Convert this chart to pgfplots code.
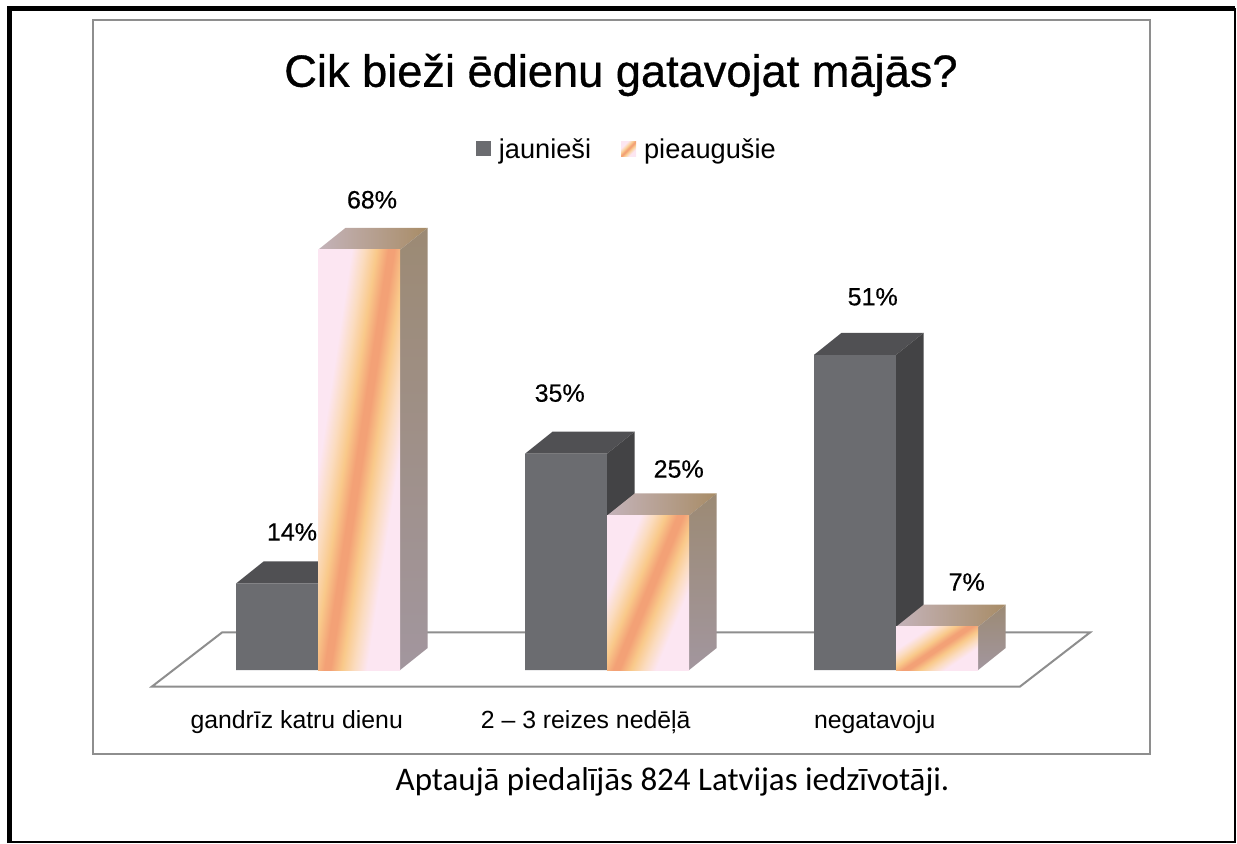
\documentclass[border=0pt]{standalone}
\usepackage{pgfplots}
\pgfplotsset{compat=1.18}
\usepackage{pgfplotstable}
\usepackage{fontspec}
\setmainfont{Liberation Sans}
\newfontfamily\capfont{Carlito}
\newfontfamily\titlefont[FakeBold=0.7]{Liberation Sans}
\newfontfamily\labfont[FakeBold=0.4]{Liberation Sans}
\definecolor{darkfront}{HTML}{6B6C70}
\definecolor{darktop}{HTML}{505053}
\definecolor{darkside}{HTML}{434345}
\definecolor{pinkw}{HTML}{FCE6F2}
\definecolor{peachl}{HTML}{FBDCC0}
\definecolor{yel}{HTML}{F9C98A}
\definecolor{orng}{HTML}{F3A176}
\definecolor{sidetop}{HTML}{9C8A74}
\definecolor{sidebot}{HTML}{A2969E}
\definecolor{topl}{HTML}{C4B3BA}
\definecolor{topm}{HTML}{D6A27A}
\definecolor{topr}{HTML}{A88C66}
\definecolor{framegray}{HTML}{8E8E8E}
\pgfdeclarehorizontalshading{peach}{100bp}{color(0bp)=(pinkw); color(31bp)=(pinkw); color(37bp)=(peachl); color(43bp)=(yel); color(48.5bp)=(orng); color(51.5bp)=(orng); color(57bp)=(yel); color(63bp)=(peachl); color(69bp)=(pinkw); color(100bp)=(pinkw)}
\pgfdeclareplotmark{nothing}{}

\pgfplotstableread{
x v lx ly
0 14 -2.35 25.75
1 35 -13 30.3
2 51 -1 29
}\jaun
\pgfplotstableread{
x v lx ly
0 68 37.65 25
1 25 46.5 23.25
2 7 46 22.35
}\pieaug

\begin{document}
\begin{tikzpicture}
\begin{axis}[
  name=ax,
  width=618.5pt, height=421.5pt, scale only axis,
  xmin=-1.02664, xmax=3.25363, ymin=-27.994, ymax=108.414,
  clip=false,
  axis line style={draw=none},
  major tick length=0pt,
  ytick=\empty,
  xtick={0,1,2},
  xticklabels={gandrīz katru dienu, 2 – 3 reizes nedēļā, negatavoju},
  xticklabel style={font=\fontsize{12.4}{14}\selectfont, anchor=base, yshift=57.5pt},
  /pgf/number format/assume math mode=true,
  legend style={at={(rel axis cs:0.5075,0.822)}, anchor=center, draw=none, fill=none,
    legend columns=2, font=\fontsize{13.6}{16}\selectfont,
    /tikz/every even column/.append style={column sep=13pt}},
  legend cell align=left,
]
% floor
\draw[framegray, line width=1pt, fill=white] (axis cs:-0.5007,-2.67) -- (axis cs:2.503,-2.67) -- (axis cs:2.745,6.07) -- (axis cs:-0.2585,6.07) -- cycle;

% dark bars: top and side faces
\addplot[forget plot, scatter, only marks, mark=nothing,
  visualization depends on={\thisrow{v} \as \val},
  scatter/@pre marker code/.code={
    \pgfmathsetmacro{\hh}{\val*3.0902}
    \fill[darktop, draw=none] (0pt,0pt) -- (-41pt,0pt) -- (-27.25pt,11pt) -- (13.75pt,11pt) -- cycle;
    \fill[darkside, draw=none] (0pt,0pt) -- (13.75pt,11pt) -- ++(0pt,-\hh pt) -- (0pt,-\hh pt) -- cycle;
  },
  scatter/@post marker code/.code={},
] table[x expr=\thisrow{x}+0.0738, y=v] {\jaun};

% dark bars: front
\addplot[ybar, bar width=0.2837, bar shift=-0.068, fill=darkfront, draw=none,
  legend image code/.code={\fill[darkfront, draw=none] (0pt,-3pt) rectangle (7.5pt,4.5pt); \path (9.5pt,0pt);},
  visualization depends on={\thisrow{lx} \as \lx},
  visualization depends on={\thisrow{ly} \as \ly},
  nodes near coords={\pgfmathprintnumber{\pgfplotspointmeta}\%},
  every node near coord/.append style={font=\labfont\fontsize{12.5}{15}\selectfont, text=black, anchor=center, xshift=\lx pt, yshift=\ly pt},
] table[x=x, y=v] {\jaun};
\addlegendentry{jaunieši}

% pink bars: front (base fill) with labels
\addplot[ybar, bar width=0.2837, bar shift=0.216, draw=none, fill=pinkw,
  legend image code/.code={\shade[draw=none, shading=peach, shading angle=-45] (0pt,-3pt) rectangle (7.5pt,4.5pt); \path (9.5pt,0pt);},
  visualization depends on={\thisrow{lx} \as \lx},
  visualization depends on={\thisrow{ly} \as \ly},
  nodes near coords={\pgfmathprintnumber{\pgfplotspointmeta}\%},
  every node near coord/.append style={font=\labfont\fontsize{12.5}{15}\selectfont, text=black, anchor=center, xshift=\lx pt, yshift=\ly pt},
] table[x=x, y=v] {\pieaug};
\addlegendentry{pieaugušie}

% pink bars: shaded front, top and side faces
\addplot[forget plot, scatter, only marks, mark=nothing,
  visualization depends on={\thisrow{v} \as \val},
  scatter/@pre marker code/.code={
    \pgfmathsetmacro{\hh}{\val*3.0902}
    \pgfmathsetmacro{\sc}{\hh/41}
    \shade[draw=none, left color=topl, middle color=topm, right color=topr] (0pt,0pt) -- (-41pt,0pt) -- (-27.25pt,11pt) -- (13.75pt,11pt) -- cycle;
    \shade[draw=none, top color=sidetop, bottom color=sidebot] (0pt,0pt) -- (13.75pt,11pt) -- ++(0pt,-\hh pt) -- (0pt,-\hh pt) -- cycle;
    \begin{pgfscope}
      \pgftransformshift{\pgfqpoint{-41pt}{-\hh pt}}
      \pgftransformyscale{\sc}
      \pgflowlevelsynccm
      \shade[draw=none, shading=peach, shading angle=-38] (0pt,0pt) rectangle (41pt,41pt);
    \end{pgfscope}
  },
  scatter/@post marker code/.code={},
] table[x expr=\thisrow{x}+0.3579, y=v] {\pieaug};

% frames
\draw[framegray, line width=1pt] (rel axis cs:0.0752,0.9763) rectangle (rel axis cs:0.9297,0.1056);
\draw[black, line width=0.8pt] (rel axis cs:0.0077,0.9899) rectangle (rel axis cs:0.9984,0.0012);
\draw[black, line width=2.6pt] (rel axis cs:0.0077,0.0) -- (rel axis cs:0.0077,0.9899) -- (rel axis cs:0.9984,0.9899);

% title and caption
\node[font=\titlefont\fontsize{22.6}{26}\selectfont] at (rel axis cs:0.502,0.911) {Cik bieži ēdienu gatavojat mājās?};
\node[font=\capfont\fontsize{16.5}{19}\selectfont] at (rel axis cs:0.5437,0.0724) {Aptaujā piedalījās 824 Latvijas iedzīvotāji.};
\end{axis}
\pgfresetboundingbox
\path[use as bounding box] (ax.south west) rectangle (ax.north east);
\end{tikzpicture}
\end{document}
